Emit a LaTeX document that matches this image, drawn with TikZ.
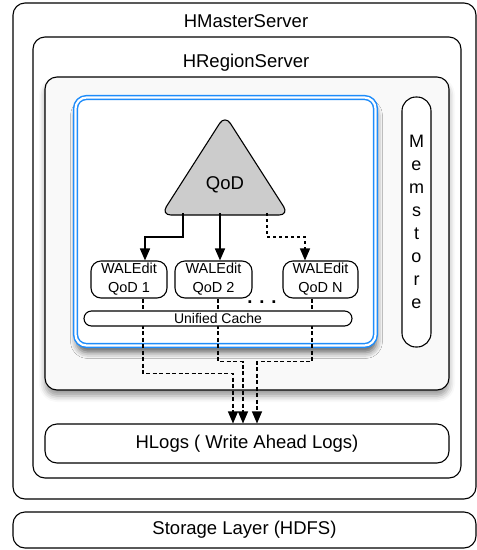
\documentclass[tikz,border=0pt]{standalone}
\usepackage{fontspec}
\setmainfont{Liberation Sans}
\usetikzlibrary{shapes.geometric,arrows.meta,shadows.blur}
\definecolor{selblue}{RGB}{30,140,250}
\definecolor{qodgray}{RGB}{204,204,204}

\begin{document}
\begin{tikzpicture}[x=1pt,y=-1pt]
% Define the node styles
\tikzstyle{box} = [draw, rectangle, rounded corners=12pt, line width=1.1pt, inner sep=0pt]
\tikzstyle{title} = [font=\fontsize{18.5}{22}\selectfont]
\tikzstyle{layer} = [box, fill=white, font=\fontsize{18.5}{22}\selectfont]
\tikzstyle{region} = [box, fill=gray!5, blur shadow={shadow xshift=0pt, shadow yshift=-6pt, shadow blur radius=6pt, shadow opacity=40}]
\tikzstyle{cluster} = [box, rounded corners=11pt, draw=selblue, line width=1.5pt, double=white, double distance=2.2pt, fill=white, blur shadow={shadow xshift=1pt, shadow yshift=-7pt, shadow blur radius=6pt, shadow opacity=60}]
\tikzstyle{memstore} = [box, rounded corners=14pt, fill=white, minimum width=29pt, minimum height=250pt, align=center, font=\fontsize{18}{23}\selectfont]
\tikzstyle{qodshape} = [draw, fill=qodgray, line width=1.1pt, rounded corners=10pt]
\tikzstyle{edit} = [box, rounded corners=10pt, fill=white, minimum height=37pt, align=center, font=\fontsize{14.5}{19}\selectfont]
\tikzstyle{cache} = [box, rounded corners=7.5pt, fill=white, minimum width=268pt, minimum height=15pt, font=\fontsize{14}{16}\selectfont]
\tikzstyle{flow} = [-{Triangle[length=12pt,width=10pt]}, line width=1.5pt]
\tikzstyle{maybeflow} = [flow, line width=1.3pt, dash pattern=on 3pt off 3pt]
\tikzstyle{logflow} = [-{Triangle[length=12pt,width=10pt]}, line width=1.1pt, dash pattern=on 4pt off 2.5pt]

\useasboundingbox (0,0) rectangle (477,550);

% Define the nodes
\node[box, minimum width=463pt, minimum height=496pt] (master) at (244.5,251) {};
\node[title] (mastertitle) at (246,21) {HMasterServer};
\node[box, minimum width=428pt, minimum height=441pt] (rs) at (247,257.5) {};
\node[title] (rstitle) at (246,63) {HRegionServer};
\node[region, minimum width=404pt, minimum height=313pt] (region) at (247,233.5) {};
\node[cluster, minimum width=300pt, minimum height=248pt] (cluster) at (225.5,221.5) {};
\node[memstore] (mem) at (416.5,222) {M\\e\\m\\s\\t\\o\\r\\e};

\draw[qodshape] (225,115) -- (289,215) -- (161,215) -- cycle;
\node[title] (qod) at (225,185) {QoD};
\coordinate (q1) at (183,213);
\coordinate (q2) at (220,213);
\coordinate (qn) at (267,213);

\node[edit, minimum width=76pt] (w1) at (129,279.5) {WALEdit\\QoD 1};
\node[edit, minimum width=77pt] (w2) at (213.5,279.5) {WALEdit\\QoD 2};
\node[edit, minimum width=75pt] (wn) at (320.5,279.5) {WALEdit\\QoD N};
\node[title, font=\fontsize{18.5}{22}\selectfont\bfseries] (dots) at (262,302) {. . .};

\node[layer, minimum width=404pt, minimum height=39pt] (hlogs) at (247,443.5) {HLogs ( Write Ahead Logs)};
\node[layer, minimum width=463pt, minimum height=36pt] (hdfs) at (244.5,530) {Storage Layer (HDFS)};

% Define the transitions
\draw[flow] (q1) -- ++(0,24) -| ([xshift=16pt]w1.north);
\draw[flow] (q2) -- (q2 |- w2.north);
\draw[maybeflow] (qn) -- ++(0,24) -| ([xshift=-15.5pt]wn.north);

\draw[logflow] ([xshift=14pt]w1.south) -- ++(0,75) -| ([xshift=-14pt]hlogs.north);
\draw[logflow] ([xshift=4.5pt]w2.south) -- ++(0,63) -| ([xshift=-4pt]hlogs.north);
\draw[logflow] ([xshift=-8.5pt]wn.south) -- ++(0,63) -| ([xshift=10pt]hlogs.north);

% Add the cache on top of the log lines
\node[cache] (cache) at (218,318.5) {Unified Cache};

\end{tikzpicture}
\end{document}
